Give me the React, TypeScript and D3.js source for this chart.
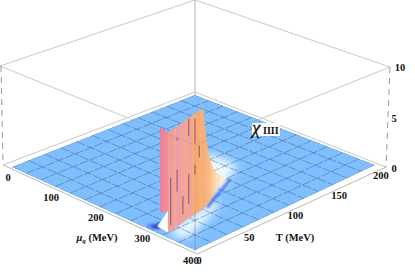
import React from "react";
import * as d3 from "d3";

// ---- data ----
const muTicks = [0, 100, 200, 300, 400];
const tTicks = [50, 100, 150, 200];
const zTicks = [0, 5, 10];
const gridDivisions = 12;

// clipped ridge (chi reaches the top of the box)
const ridgeT = [6, 9, 13, 17, 21, 25, 29, 33, 37, 41, 46, 51];
const ridgeMu = [333, 332, 331, 329, 327, 325, 323, 321, 320, 318, 317, 315];
const ridgeColor = ["#f6a08c", "#f29aa8", "#f7a68e", "#ee9cb4", "#f6a48e", "#f3a2a8", "#f8a884", "#f0a49c", "#f9ac7c", "#f8aa72", "#fab074"];

// flank of the peak falling to the floor
const tailT = [51, 55, 60, 66, 73, 80, 88, 96, 104];
const tailMu = [315, 312, 307, 301, 293, 285, 277, 270, 262];
const tailZ = [10, 7.6, 5.4, 3.8, 2.7, 1.8, 1.1, 0.4, 0];
const tailColor = ["#fab074", "#fab47a", "#fbb980", "#fcc690", "#fdd4a4", "#fde0ba", "#fdeacf", "#fdf2e0"];

// pink left face: [mu, T, z bottom]
const faceMu = [312, 333];
const faceT = [8, 6];
const faceZLow = [1.4, 2.2];

// dark mesh streaks on the wall
const streakRidgeIdx = [7, 9, 3, 9, 3, 1, 7, 5, 10];
const streakZLow = [8.2, 7, 8.6, 3.9, 3.5, 0.6, 1.4, 0.8, 5.4];
const streakZHigh = [9.9, 9.5, 8.9, 4.9, 5.7, 5.3, 4.4, 2.6, 6.6];

// floor shading
const backHaloMu = [185, 245, 268, 285, 290, 220];
const backHaloT = [125, 125, 105, 90, 60, 70];
const frontHaloMu = [334, 322, 315, 306, 322, 344, 364, 356];
const frontHaloT = [7, 29, 51, 68, 66, 42, 12, 5];
const darkStreakMu = [316, 302, 288, 272];
const darkStreakT = [55, 70, 86, 103];
const leftDarkOuterMu = [292, 304, 316, 316, 304];
const leftDarkOuterT = [4, 1, 4, 14, 16];
const leftDarkMu = [300, 307, 314, 312, 305];
const leftDarkT = [5, 3, 6, 11, 12];

// ---- projection ----
const W = 415, H = 277;
const uS = d3.scaleLinear().domain([0, 400]).range([0, 1]);
const vS = d3.scaleLinear().domain([0, 200]).range([0, 1]);
const zS = d3.scaleLinear().domain([0, 10]).range([0, 100]);

function project(mu: number, T: number, z = 0): [number, number] {
  const u = uS(mu), v = vS(T);
  const w = 1 - 0.0763 * u + 0.093 * v;
  return [(168.1 * u + 201.1 * v + 12) / w, (63.9 * u - 63.16 * v + 167) / w - zS(z)];
}
const line = d3.line<[number, number]>();
const closed = (pts: [number, number][]) => (line(pts) ?? "") + "Z";
const zip = (a: number[], b: number[]) => a.map((m, i) => project(m, b[i]));

const serif = "'Liberation Serif', 'Times New Roman', serif";

export default function App() {
  const floor = closed([project(0, 0), project(400, 0), project(400, 200), project(0, 200)]);
  const grid = d3.range(0, gridDivisions + 1);
  const strips = ridgeMu.slice(0, -1).map((m, i) => ({
    d: closed([project(m, ridgeT[i]), project(ridgeMu[i + 1], ridgeT[i + 1]), project(ridgeMu[i + 1], ridgeT[i + 1], 10), project(m, ridgeT[i], 10)]),
    c: ridgeColor[i],
  }));
  const tails = tailMu.slice(0, -1).map((m, i) => ({
    d: closed([project(m, tailT[i]), project(tailMu[i + 1], tailT[i + 1]), project(tailMu[i + 1], tailT[i + 1], tailZ[i + 1]), project(m, tailT[i], tailZ[i])]),
    c: tailColor[i],
  }));
  const leftFace = closed([
    project(faceMu[0], faceT[0], 10), project(faceMu[1], faceT[1], 10),
    project(faceMu[1], faceT[1], faceZLow[1]), project(faceMu[0], faceT[0], faceZLow[0]),
  ]);
  const gap = closed([project(308, 7), project(faceMu[1], faceT[1]), project(faceMu[1], faceT[1], faceZLow[1])]);
  const txt = { fontFamily: serif, fontSize: 10.5, fontWeight: 700, fill: "#111", textAnchor: "middle" as const };

  return (
    <svg width={W} height={H} style={{ position: "absolute", left: 0, top: 0, background: "#fff" }}>
      <defs>
        <clipPath id="fl"><path d={floor} /></clipPath>
        <filter id="b1" x="-50%" y="-50%" width="200%" height="200%"><feGaussianBlur stdDeviation="0.9" /></filter>
        <filter id="b2" x="-50%" y="-50%" width="200%" height="200%"><feGaussianBlur stdDeviation="1.6" /></filter>
        <filter id="b3" x="-50%" y="-50%" width="200%" height="200%"><feGaussianBlur stdDeviation="4" /></filter>
        <linearGradient id="faceG" x1="0" x2="1" y1="0" y2="0">
          <stop offset="0" stopColor="#ea7f9c" /><stop offset="1" stopColor="#f58f96" />
        </linearGradient>
      </defs>

      {/* box */}
      <g stroke="#c8c8c8" strokeWidth={1} fill="none">
        <path d="M0,66L195,0L390,67" />
        <path d="M0,66L128,118" />
        <path d="M390,67L258,120" />
        <path d="M195,0V95" stroke="#b0b0b0" />
        <path d="M3,165L195,92L386,167" />
        <path d="M3,165L197,254L386,167" stroke="#b8b8b8" />
        <path d="M1,66L3,165" stroke="#999" strokeDasharray="6 5" />
        <path d="M390,67L386,167" stroke="#999" strokeDasharray="6 5" />
      </g>

      {/* floor */}
      <path d={floor} fill="#80bffe" />
      <g clipPath="url(#fl)">
        <path d={closed(zip(frontHaloMu, frontHaloT))} fill="#eef9ff" filter="url(#b3)" />
        <path d={closed(zip(backHaloMu, backHaloT))} fill="#eaf7ff" filter="url(#b3)" />
        <g stroke="#2f4f80" strokeWidth={0.75} strokeOpacity={0.55} strokeDasharray="9 1.5">
          {grid.map(i => (
            <path key={"a" + i} d={line([project((400 * i) / gridDivisions, 0), project((400 * i) / gridDivisions, 200)]) ?? ""} />
          ))}
          {grid.map(i => (
            <path key={"b" + i} d={line([project(0, (200 * i) / gridDivisions), project(400, (200 * i) / gridDivisions)]) ?? ""} />
          ))}
        </g>
        <path d={line(zip(darkStreakMu, darkStreakT)) ?? ""} stroke="#3f63d8" strokeWidth={2.2} fill="none" filter="url(#b1)" />
        <path d={closed(zip(leftDarkOuterMu, leftDarkOuterT))} fill="#5a84ee" filter="url(#b2)" />
        <path d={closed(zip(leftDarkMu, leftDarkT))} fill="#3540cc" filter="url(#b1)" />
      </g>

      {/* wall */}
      <path d={gap} fill="#fff" />
      <path d={leftFace} fill="url(#faceG)" />
      {strips.map((s, i) => <path key={i} d={s.d} fill={s.c} stroke={s.c} strokeWidth={0.4} />)}
      {tails.map((s, i) => <path key={i} d={s.d} fill={s.c} stroke={s.c} strokeWidth={0.4} />)}
      <g stroke="#6a4a60" strokeWidth={1} strokeOpacity={0.8}>
        {streakRidgeIdx.map((r, i) => (
          <path key={i} d={line([project(ridgeMu[r], ridgeT[r], streakZLow[i]), project(ridgeMu[r], ridgeT[r], streakZHigh[i])]) ?? ""} />
        ))}
      </g>

      {/* front box edges over the surface */}
      <g stroke="#777" fill="none">
        <path d="M128,118L195,145L258,120" strokeOpacity={0.18} />
        <path d="M195,145V213" strokeOpacity={0.15} />
        <path d="M195,213V251" strokeOpacity={0.5} />
      </g>

      {/* ticks */}
      {muTicks.map(m => {
        const [x, y] = project(m, 0);
        return <text key={m} x={x - 4} y={y + 14} {...txt}>{m}</text>;
      })}
      {tTicks.map(t => {
        const [x, y] = project(400, t);
        return <text key={t} x={x + 6} y={y + 14} {...txt}>{t}</text>;
      })}
      <text x={199} y={264} {...txt}>0</text>
      {zTicks.map(z => (
        <text key={z} x={z === 10 ? 400 : 394} y={172 - z * 10.1} {...txt}>{z}</text>
      ))}

      <text x={97} y={241} {...txt}>
        <tspan fontStyle="italic">μ</tspan><tspan fontSize={7} dy={2} fontStyle="italic">q</tspan><tspan dy={-2}> (MeV)</tspan>
      </text>
      <text x={295} y={241} {...txt}>T (MeV)</text>

      <rect x={252} y={123} width={28} height={13} fill="#fff" />
      <text x={252} y={134} fontFamily={serif} fontStyle="italic" fontSize={19} fill="#111" stroke="#111" strokeWidth={0.3}>χ</text>
      <text x={263} y={134} fontFamily={serif} fontSize={10} fontWeight={700} fill="#111">IIII</text>
    </svg>
  );
}
